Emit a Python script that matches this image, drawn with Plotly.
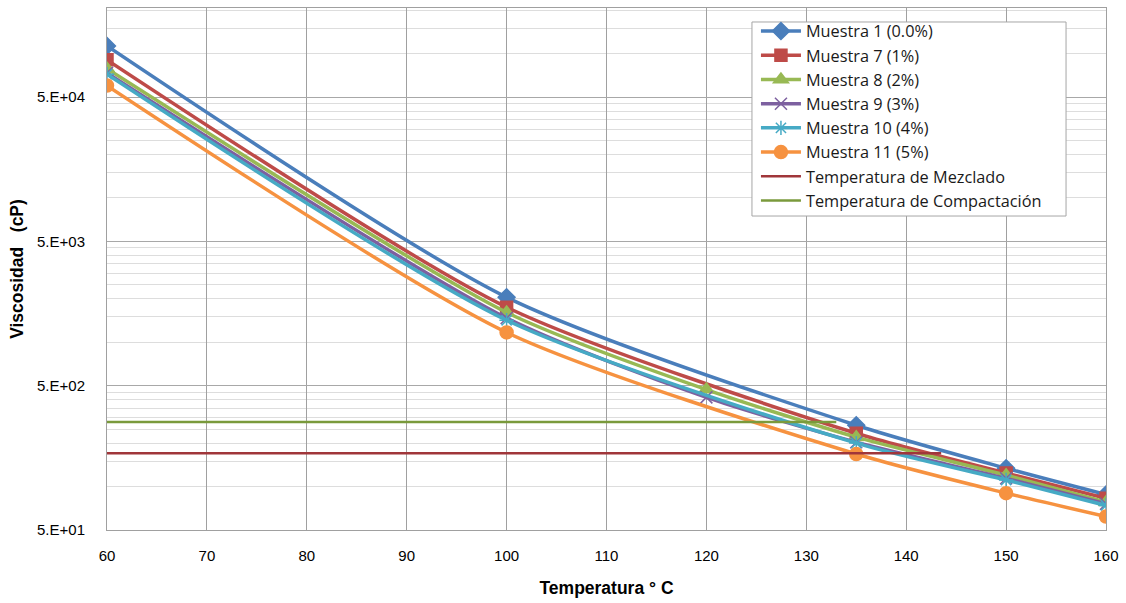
import math
import plotly.graph_objects as go

# ---- data ----
temps_5 = [60, 100, 135, 150, 160]
temps_6 = [60, 100, 120, 135, 150, 160]

m1 = [113000, 2050, 266, 134, 88]
m7 = [90500, 1750, 234, 124, 83]
m8 = [78500, 1610, 470, 220, 120, 78]
m9 = [73500, 1470, 415, 203, 114, 76]
m10 = [72000, 1420, 200, 111, 74]
m11 = [60000, 1170, 168, 90, 62]

mezclado_x = [60, 143.5]
mezclado_y = [170, 170]
compact_x = [60, 133]
compact_y = [280, 280]

y_ticks = [50, 500, 5000, 50000]
y_ticktext = ["5.E+01", "5.E+02", "5.E+03", "5.E+04"]
x_ticks = [60, 70, 80, 90, 100, 110, 120, 130, 140, 150, 160]

series = [
    ("Muestra 1 (0.0%)", temps_5, m1, "#4A7EBB", "diamond", 13),
    ("Muestra 7 (1%)", temps_5, m7, "#BE4B48", "square", 12),
    ("Muestra 8 (2%)", temps_6, m8, "#98B954", "triangle-up", 13),
    ("Muestra 9 (3%)", temps_6, m9, "#7D60A0", "x-thin-open", 12),
    ("Muestra 10 (4%)", temps_5, m10, "#46AAC5", "asterisk-open", 12),
    ("Muestra 11 (5%)", temps_5, m11, "#F69240", "circle", 13),
]

FONT = "Liberation Sans"

fig = go.Figure()
for name, xs, ys, col, sym, sz in series:
    fig.add_trace(go.Scatter(
        x=xs, y=ys, name=name, mode="lines+markers",
        line=dict(color=col, width=3.5, shape="spline", smoothing=0.7),
        marker=dict(symbol=sym, size=sz, color=col,
                    line=dict(color=col, width=1.5)),
    ))

fig.add_trace(go.Scatter(x=mezclado_x, y=mezclado_y, name="Temperatura de Mezclado",
                         mode="lines", line=dict(color="#A0363A", width=2.5)))
fig.add_trace(go.Scatter(x=compact_x, y=compact_y, name="Temperatura de Compactación",
                         mode="lines", line=dict(color="#7A9A3C", width=2.5)))

minor_vals = [t * k for t in y_ticks for k in range(2, 10) if t * k <= 2.05e5]

# legend frame
fig.add_shape(type="rect", xref="paper", yref="paper",
              x0=0.6456, x1=0.960, y0=0.6015, y1=0.9732,
              fillcolor="white", line=dict(color="#A6A6A6", width=1), layer="above")

fig.update_layout(
    width=1126, height=603,
    margin=dict(l=107, r=20, t=8, b=73),
    paper_bgcolor="white", plot_bgcolor="white",
    font=dict(family=FONT, size=15, color="#000000"),
    legend=dict(
        x=0.6496, y=0.9885, xanchor="left", yanchor="top",
        bgcolor="rgba(0,0,0,0)", borderwidth=0,
        font=dict(family="Open Sans", size=16.3, color="#1A1A1A"),
        tracegroupgap=0, itemwidth=40,
    ),
    showlegend=True,
)

fig.update_xaxes(
    range=[60, 160], tickvals=x_ticks,
    showgrid=True, gridcolor="#A0A0A0", gridwidth=1,
    showline=True, linecolor="#A0A0A0", mirror=True,
    ticks="", ticklabelstandoff=12, zeroline=False,
    tickfont=dict(family=FONT, size=15, color="#000000"),
    title=dict(text="<b>Temperatura ° C</b>", standoff=18,
               font=dict(family=FONT, size=17.5, color="#000000")),
)
fig.update_yaxes(
    type="log", range=[math.log10(50), math.log10(2.07e5)],
    tickvals=y_ticks, ticktext=y_ticktext,
    showgrid=True, gridcolor="#A8A8A8", gridwidth=1,
    minor=dict(tickvals=minor_vals, showgrid=True, gridcolor="#DDDDDD", gridwidth=1, ticks=""),
    showline=True, linecolor="#A0A0A0", mirror=True,
    ticks="", ticklabelstandoff=18, zeroline=False,
    tickfont=dict(family=FONT, size=15, color="#000000"),
    title=dict(text="<b>Viscosidad   (cP)</b>", standoff=8,
               font=dict(family=FONT, size=17.5, color="#000000")),
)

fig.write_html("out.html")
